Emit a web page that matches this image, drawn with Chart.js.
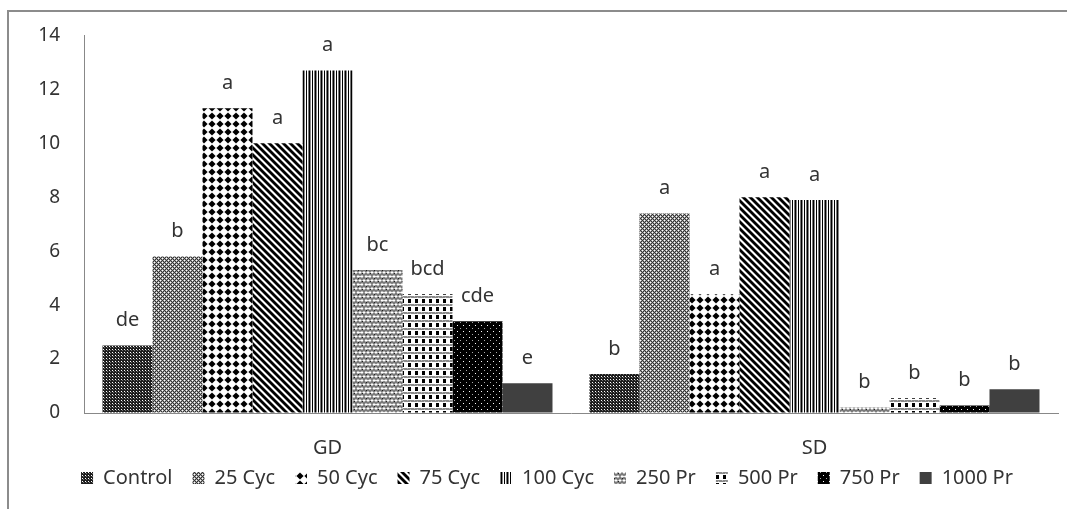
<!DOCTYPE html>
<html><head><meta charset="utf-8">
<script src="https://cdn.jsdelivr.net/npm/chart.js@4.4.1/dist/chart.umd.min.js"></script>
<style>
html,body{margin:0;padding:0;background:#fff;overflow:hidden;}
#wrap{position:relative;width:1067px;height:509px;overflow:hidden;}
#frame{position:absolute;left:7px;top:10px;width:1200px;height:700px;border:2px solid #8c8c8c;box-sizing:border-box;}
canvas{position:absolute;left:0;top:0;}
</style></head><body>
<div id="wrap"><div id="frame"></div><canvas id="c" width="1067" height="509"></canvas></div>
<script>
// ---- data ----
const categories = ['GD', 'SD'];
const seriesNames = ['Control', '25 Cyc', '50 Cyc', '75 Cyc', '100 Cyc', '250 Pr', '500 Pr', '750 Pr', '1000 Pr'];
const controlVals = [2.5, 1.45];
const cyc25Vals   = [5.8, 7.4];
const cyc50Vals   = [11.3, 4.4];
const cyc75Vals   = [10.0, 8.0];
const cyc100Vals  = [12.7, 7.9];
const pr250Vals   = [5.3, 0.2];
const pr500Vals   = [4.4, 0.55];
const pr750Vals   = [3.4, 0.28];
const pr1000Vals  = [1.1, 0.88];
const lettersGD = ['de', 'b', 'a', 'a', 'a', 'bc', 'bcd', 'cde', 'e'];
const lettersSD = ['b', 'a', 'a', 'a', 'a', 'b', 'b', 'b', 'b'];
const yTicks = [0, 2, 4, 6, 8, 10, 12, 14];

const seriesVals = [controlVals, cyc25Vals, cyc50Vals, cyc75Vals, cyc100Vals, pr250Vals, pr500Vals, pr750Vals, pr1000Vals];
const letters = [lettersGD, lettersSD];

const mainCanvas = document.getElementById('c');
const mctx = mainCanvas.getContext('2d');

function makePattern(w, h, draw) {
  const t = document.createElement('canvas');
  t.width = w; t.height = h;
  const x = t.getContext('2d');
  draw(x, w, h);
  return mctx.createPattern(t, 'repeat');
}
function px(x, col, i, j, w, h) { x.fillStyle = col; x.fillRect(i, j, w || 1, h || 1); }

const patterns = [
  // Control: dark fine grid
  makePattern(3, 3, (x) => { px(x, '#1e1e1e', 0, 0, 3, 3); px(x, '#ffffff', 1, 1); px(x, '#777', 2, 2); }),
  // 25 Cyc: medium gray checker
  makePattern(4, 4, (x) => {
    for (let i = 0; i < 4; i++) for (let j = 0; j < 4; j++) px(x, (i + j) % 2 === 0 ? '#333' : '#a0a0a0', i, j);
    px(x, '#fff', 0, 0); px(x, '#fff', 2, 2);
  }),
  // 50 Cyc: black diamonds
  makePattern(8, 8, (x) => {
    px(x, '#fff', 0, 0, 8, 8);
    x.fillStyle = '#000'; x.beginPath();
    x.moveTo(4, 0.4); x.lineTo(7.6, 4); x.lineTo(4, 7.6); x.lineTo(0.4, 4); x.closePath(); x.fill();
  }),
  // 75 Cyc: diagonal stripes "\"
  makePattern(7, 7, (x) => {
    px(x, '#fff', 0, 0, 7, 7);
    x.strokeStyle = '#000'; x.lineWidth = 2.8;
    for (const o of [-7, 0, 7]) { x.beginPath(); x.moveTo(o - 1, -1); x.lineTo(o + 8, 8); x.stroke(); }
  }),
  // 100 Cyc: vertical lines
  makePattern(6, 1, (x) => {
    const cols = ['#000', '#fff', '#777', '#000', '#888', '#fff'];
    cols.forEach((c, i) => px(x, c, i, 0));
  }),
  // 250 Pr: zigzag weave
  makePattern(8, 8, (x) => {
    px(x, '#fff', 0, 0, 8, 8);
    x.strokeStyle = '#7a7a7a'; x.lineWidth = 2.1;
    x.beginPath(); x.moveTo(0, 3.5); x.lineTo(2, 1.5); x.lineTo(4, 3.5); x.lineTo(6, 1.5); x.lineTo(8, 3.5); x.stroke();
    x.beginPath(); x.moveTo(0, 5.5); x.lineTo(2, 7.5); x.lineTo(4, 5.5); x.lineTo(6, 7.5); x.lineTo(8, 5.5); x.stroke();
    px(x, '#222', 2, 1); px(x, '#222', 6, 6);
  }),
  // 500 Pr: black squares with gray bands
  makePattern(7, 8, (x) => {
    px(x, '#fff', 0, 0, 7, 8);
    px(x, '#8a8a8a', 0, 0, 7, 2);
    px(x, '#bbb', 1, 0); px(x, '#bbb', 4, 1);
    px(x, '#000', 2, 3, 3, 4);
  }),
  // 750 Pr: black with white dots
  makePattern(6, 6, (x) => { px(x, '#000', 0, 0, 6, 6); px(x, '#fff', 1, 1); px(x, '#aaa', 4, 4); }),
  // 1000 Pr: solid dark gray
  '#404040'
];

const datasets = seriesNames.map((name, i) => ({
  label: name,
  data: seriesVals[i],
  backgroundColor: patterns[i],
  borderWidth: 0,
  categoryPercentage: 0.924,
  barPercentage: 1.0
}));

const textPlugin = {
  id: 'texts',
  afterDatasetsDraw(chart) {
    const ctx = chart.ctx;
    ctx.save();
    ctx.font = '20px "Noto Sans"';
    ctx.fillStyle = '#333';
    ctx.textAlign = 'center';
    ctx.textBaseline = 'middle';
    chart.data.datasets.forEach((ds, i) => {
      const meta = chart.getDatasetMeta(i);
      meta.data.forEach((bar, j) => {
        ctx.fillText(letters[j][i], bar.x, bar.y - 25);
      });
    });
    // category labels under the x axis, positioned by the x scale
    const xs = chart.scales.x;
    chart.data.labels.forEach((lab, i) => {
      ctx.fillText(lab, xs.getPixelForTick(i), chart.chartArea.bottom + 35);
    });
    ctx.restore();
  }
};

function draw() {
  Chart.defaults.font.family = '"Noto Sans", sans-serif';
  Chart.defaults.color = '#333';
  new Chart(mainCanvas, {
    type: 'bar',
    data: { labels: categories, datasets },
    options: {
      responsive: false,
      animation: false,
      devicePixelRatio: 1,
      layout: { padding: { left: 36, right: 9, top: 35, bottom: 11 } },
      plugins: {
        legend: {
          position: 'bottom',
          labels: { boxWidth: 12, boxHeight: 12, padding: 20, font: { size: 20 }, color: '#333' }
        },
        tooltip: { enabled: false }
      },
      scales: {
        x: {
          grid: { display: true, drawOnChartArea: false, drawTicks: false },
          border: { display: true, color: '#888', width: 1 },
          ticks: { display: false },
          afterFit: (s) => { s.height = 35; }
        },
        y: {
          min: 0, max: 14,
          grid: { display: true, drawOnChartArea: false, drawTicks: false },
          border: { display: true, color: '#888', width: 1 },
          afterBuildTicks: (s) => { s.ticks = yTicks.map(v => ({ value: v })); },
          ticks: { font: { size: 19 }, color: '#333', padding: 24 },
          afterFit: (s) => { s.width = 48; }
        }
      }
    },
    plugins: [textPlugin]
  });
}
if (document.fonts && document.fonts.load) {
  document.fonts.load('20px "Noto Sans"').then(draw, draw);
} else { draw(); }
</script>
</body></html>
